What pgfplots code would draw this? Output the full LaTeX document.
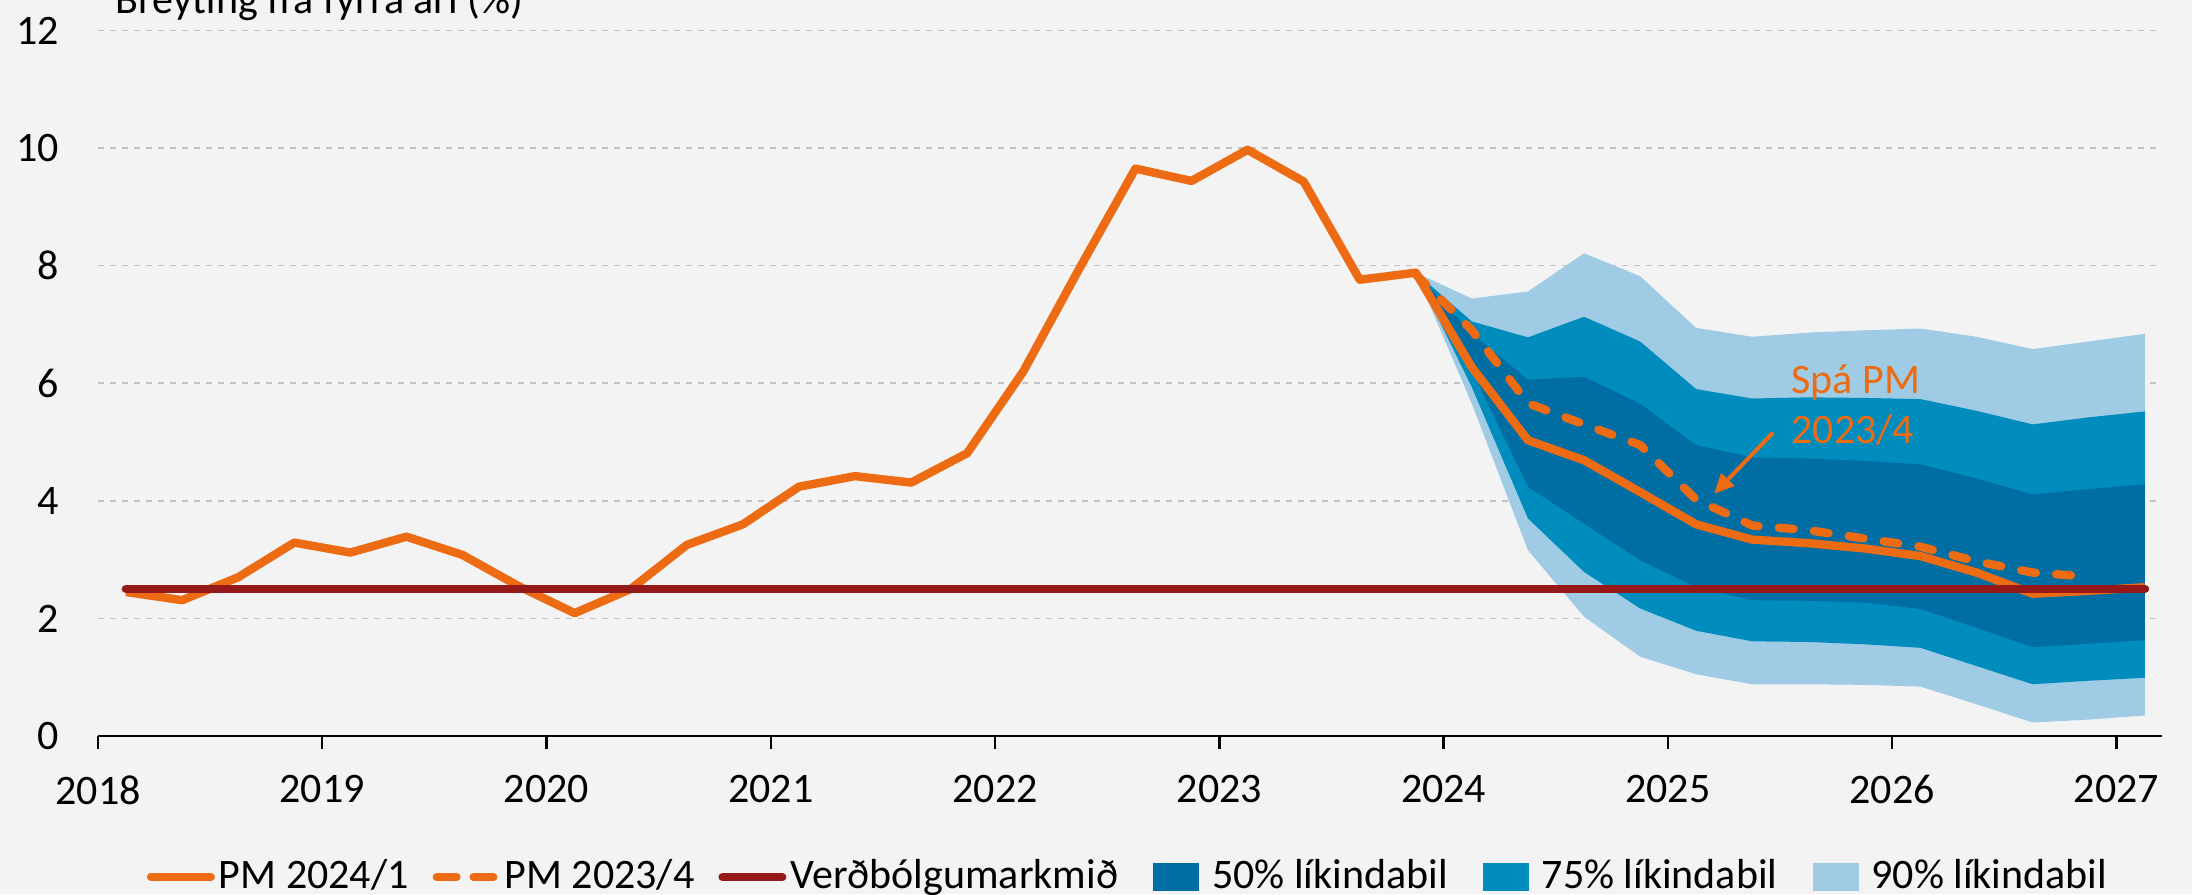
\documentclass[border=0pt]{standalone}
\usepackage{fontspec}
\setmainfont{Carlito}
\usepackage{pgfplots}
\pgfplotsset{compat=1.18}
\usepackage{pgfplotstable}
\usetikzlibrary{arrows.meta}

\definecolor{bg}{HTML}{F3F3F3}
\definecolor{pmorange}{HTML}{EC6B13}
\definecolor{target}{HTML}{951919}
\definecolor{b50}{HTML}{006DA3}
\definecolor{b75}{HTML}{008DBE}
\definecolor{b90}{HTML}{A0CBE5}
\definecolor{gridc}{HTML}{C4C4C4}

\pgfplotstableread{
x y
2018.125 2.45
2018.375 2.31
2018.625 2.70
2018.875 3.29
2019.125 3.12
2019.375 3.39
2019.625 3.08
2019.875 2.55
2020.125 2.09
2020.375 2.50
2020.625 3.25
2020.875 3.60
2021.125 4.24
2021.375 4.42
2021.625 4.31
2021.875 4.81
2022.125 6.20
2022.375 7.95
2022.625 9.65
2022.875 9.44
2023.125 9.97
2023.375 9.43
2023.625 7.76
2023.875 7.88
2024.125 6.27
2024.375 5.03
2024.625 4.69
2024.875 4.15
2025.125 3.60
2025.375 3.34
2025.625 3.28
2025.875 3.19
2026.125 3.06
2026.375 2.78
2026.625 2.42
2026.875 2.47
2027.125 2.53
}\pmnew

\pgfplotstableread{
x y
2023.875 7.85
2024.125 6.90
2024.375 5.66
2024.625 5.30
2024.875 4.95
2025.125 4.02
2025.375 3.58
2025.625 3.50
2025.875 3.36
2026.125 3.22
2026.375 2.97
2026.625 2.78
2026.875 2.71
}\pmold

\pgfplotstableread{
x y
2018.125 2.5
2027.125 2.5
}\target

% 90% band: upper bound forward, lower bound backward
\pgfplotstableread{
x y
2023.875 7.88
2024.125 7.44
2024.375 7.56
2024.625 8.21
2024.875 7.82
2025.125 6.94
2025.375 6.79
2025.625 6.86
2025.875 6.90
2026.125 6.93
2026.375 6.79
2026.625 6.58
2026.875 6.71
2027.125 6.84
2027.125 0.35
2026.875 0.28
2026.625 0.23
2026.375 0.54
2026.125 0.84
2025.875 0.87
2025.625 0.88
2025.375 0.88
2025.125 1.05
2024.875 1.35
2024.625 2.03
2024.375 3.16
2024.125 5.65
2023.875 7.88
}\bandninety

% 75% band
\pgfplotstableread{
x y
2023.875 7.88
2024.125 7.05
2024.375 6.78
2024.625 7.13
2024.875 6.71
2025.125 5.90
2025.375 5.74
2025.625 5.76
2025.875 5.75
2026.125 5.73
2026.375 5.53
2026.625 5.30
2026.875 5.42
2027.125 5.52
2027.125 0.99
2026.875 0.94
2026.625 0.88
2026.375 1.19
2026.125 1.50
2025.875 1.56
2025.625 1.60
2025.375 1.61
2025.125 1.79
2024.875 2.17
2024.625 2.79
2024.375 3.70
2024.125 5.93
2023.875 7.88
}\bandseventyfive

% 50% band
\pgfplotstableread{
x y
2023.875 7.88
2024.125 6.85
2024.375 6.06
2024.625 6.11
2024.875 5.65
2025.125 4.95
2025.375 4.74
2025.625 4.72
2025.875 4.68
2026.125 4.62
2026.375 4.38
2026.625 4.11
2026.875 4.20
2027.125 4.28
2027.125 1.63
2026.875 1.57
2026.625 1.51
2026.375 1.84
2026.125 2.16
2025.875 2.27
2025.625 2.30
2025.375 2.31
2025.125 2.53
2024.875 2.99
2024.625 3.61
2024.375 4.24
2024.125 6.22
2023.875 7.88
}\bandfifty

\begin{document}
\begin{tikzpicture}
\fill[bg] (0,0) rectangle (548pt,223.5pt);
\begin{axis}[
  at={(24.5pt,39.5pt)}, anchor=south west,
  scale only axis, width=515.9pt, height=176.4pt,
  xmin=2018, xmax=2027.2, ymin=0, ymax=12,
  axis x line*=bottom, axis y line*=left,
  y axis line style={draw=none},
  x axis line style={black, line width=0.7pt, -},
  xtick={2018,2019,...,2027},
  xticklabels={2018,2019,2020,2021,2022,2023,2024,2025,2026,2027},
  ytick={0,2,...,12},
  yticklabels={0,2,4,6,8,10,12},
  tick align=outside,
  major tick length=3.3pt,
  xtick style={black, line width=0.6pt},
  ytick style={draw=none},
  ymajorgrids,
  grid style={gridc, line width=0.4pt, dash pattern=on 1.5pt off 1.5pt},
  ticklabel style={font=\fontsize{10.5}{12}\selectfont},
  xticklabel style={yshift=-3pt},
  yticklabel style={xshift=-3pt},
  legend style={at={(0.0237,-0.200)}, anchor=west, draw=none, fill=none,
    inner sep=0pt, outer sep=0pt,
    legend columns=6, font=\fontsize{10.5}{12}\selectfont,
    nodes={inner sep=1pt},
    /tikz/every odd column/.append style={column sep=0pt},
    /tikz/every even column/.append style={column sep=5pt}},
  clip=false,
]
% fan
\addplot[fill=b90, draw=none, forget plot] table{\bandninety};
\addplot[fill=b75, draw=none, forget plot] table{\bandseventyfive};
\addplot[fill=b50, draw=none, forget plot] table{\bandfifty};
% lines
\addplot[pmorange, line width=2.1pt, line join=round, forget plot] table{\pmnew};
\addplot[pmorange, line width=2.1pt, line join=round, line cap=round, dash pattern=on 3.7pt off 5.1pt, forget plot] table{\pmold};
\addplot[target, line width=2.2pt, line cap=round, forget plot] table{\target};
% annotation
\draw[pmorange, line width=1pt, -{Triangle[length=5pt,width=4.5pt]}] (axis cs:2025.468,5.16) -- (axis cs:2025.205,4.12);
\node[anchor=base west, text=pmorange, font=\fontsize{10.5}{12}\selectfont, inner sep=0pt] at (axis cs:2025.546,5.82) {Spá PM};
\node[anchor=base west, text=pmorange, font=\fontsize{10.5}{12}\selectfont, inner sep=0pt] at (axis cs:2025.546,4.97) {2023/4};
% legend
\addlegendimage{legend image code/.code={\draw[pmorange, line width=2pt, line cap=round] (1pt,0pt) -- (16pt,0pt);}}
\addlegendentry{PM 2024/1}
\addlegendimage{legend image code/.code={\draw[pmorange, line width=2pt, line cap=round, dash pattern=on 5pt off 4.2pt] (1pt,0pt) -- (16pt,0pt);}}
\addlegendentry{PM 2023/4}
\addlegendimage{legend image code/.code={\draw[target, line width=2pt, line cap=round] (1pt,0pt) -- (16pt,0pt);}}
\addlegendentry{Verðbólgumarkmið}
\addlegendimage{legend image code/.code={\path[draw=none, fill=none] (0pt,0pt) -- (16.5pt,0pt); \fill[b50, draw=none] (2.75pt,-3.5pt) rectangle (14.25pt,3.5pt);}}
\addlegendentry{50\% líkindabil}
\addlegendimage{legend image code/.code={\path[draw=none, fill=none] (0pt,0pt) -- (16.5pt,0pt); \fill[b75, draw=none] (2.75pt,-3.5pt) rectangle (14.25pt,3.5pt);}}
\addlegendentry{75\% líkindabil}
\addlegendimage{legend image code/.code={\path[draw=none, fill=none] (0pt,0pt) -- (16.5pt,0pt); \fill[b90, draw=none] (2.75pt,-3.5pt) rectangle (14.25pt,3.5pt);}}
\addlegendentry{90\% líkindabil}
\end{axis}
\node[anchor=base west, font=\fontsize{10.5}{12}\selectfont, inner sep=0pt] at (28.75pt,220.2pt) {Breyting frá fyrra ári (\%)};
\pgfresetboundingbox
\useasboundingbox (0,0) rectangle (548pt,223.5pt);
\end{tikzpicture}
\end{document}
